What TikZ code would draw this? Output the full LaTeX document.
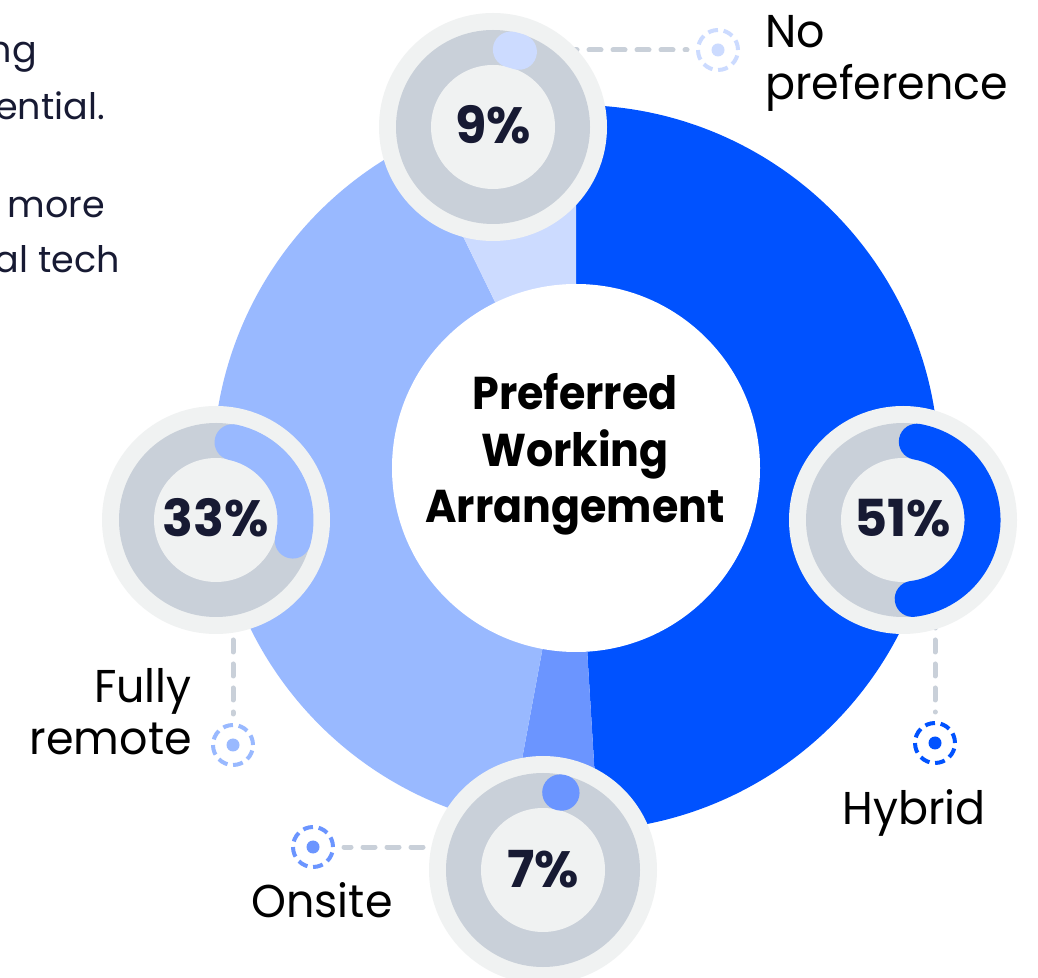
\documentclass[tikz,border=0pt]{standalone}
\usepackage{fontspec}
\setmainfont{Poppins}
\newfontfamily\ttlfont[FakeStretch=0.93]{Poppins}
\newfontfamily\lblfont[FakeStretch=0.965]{Poppins}
\usetikzlibrary{calc}
\definecolor{hyb}{HTML}{0052FF}
\definecolor{rem}{HTML}{99B9FF}
\definecolor{npf}{HTML}{CCDBFF}
\definecolor{ons}{HTML}{6B95FF}
\definecolor{bgl}{HTML}{F0F2F2}
\definecolor{trk}{HTML}{C9D0D9}
\definecolor{navy}{HTML}{171A33}
\newcommand\drawbadge[6]{%
  \node[badge] (#1) at (#2) {};
  \fill[trk] (#1.center) circle (97pt);
  \fill[bgl] (#1.center) circle (62pt);
  \draw[#4, line width=36pt, line cap=round] ($(#1.center)+(#5:79.5pt)$) arc[start angle=#5, end angle=#6, radius=79.5pt];
  \node[pct] (#1t) at ($(#1.center)+(0,-17)$) {#3};
}
\newcommand\drawleg[3]{%
  \node[legring=#3] (#1) at (#2) {};
  \fill[#3] (#1.center) circle (6.5pt);
}
\begin{document}
\begin{tikzpicture}[x=1pt,y=1pt,
  badge/.style={circle, fill=bgl, minimum size=228pt, inner sep=0pt},
  pct/.style={font=\fontsize{51}{60}\selectfont\bfseries, text=navy, anchor=base, inner sep=0pt},
  ttl/.style={font=\ttlfont\fontsize{46}{57}\selectfont\bfseries, text=black, anchor=base, inner sep=0pt},
  lbl/.style={font=\lblfont\fontsize{46}{52}\selectfont, text=black, inner sep=0pt},
  para/.style={font=\fontsize{36.5}{56}\selectfont, text=navy, inner sep=0pt, anchor=base east},
  conn/.style={draw=trk, line width=5pt, dash pattern=on 12pt off 12pt, line cap=round},
  legring/.style={circle, draw=#1, line width=4pt, dash pattern=on 10pt off 5.7pt, minimum size=40pt, inner sep=0pt},
]
\useasboundingbox (0,0) rectangle (1038,977);
\clip (0,0) rectangle (1038,977);
\fill[white] (0,0) rectangle (1038,977);

% donut
\coordinate (C) at (576,509);
\fill[hyb] (C) -- ++(90:363pt) arc[start angle=90, end angle=-86.5, radius=363pt] -- cycle;
\fill[ons] (C) -- ++(-86.5:363pt) arc[start angle=-86.5, end angle=-100.5, radius=363pt] -- cycle;
\fill[rem] (C) -- ++(-100.5:363pt) arc[start angle=-100.5, end angle=-244, radius=363pt] -- cycle;
\fill[npf] (C) -- ++(116:363pt) arc[start angle=116, end angle=90, radius=363pt] -- cycle;
\fill[white] (C) circle (184pt);

\node[ttl] (title1) at (575,567) {Preferred};
\node[ttl] (title2) at (575,510) {Working};
\node[ttl] (title3) at (575,454) {Arrangement};

% legend markers
\drawleg{m9}{718,927}{npf}
\drawleg{m51}{935,234}{hyb}
\drawleg{m33}{233,232}{rem}
\drawleg{m7}{313,130}{ons}

% badge centres
\coordinate (b9c) at (493,850);
\coordinate (b51c) at (903,457);
\coordinate (b33c) at (216,457);
\coordinate (b7c) at (543,107);

% connectors
\draw[conn, shorten >=9pt] (b9c |- m9) -- (m9.west);
\draw[conn, shorten >=9pt] (m51 |- b51c) -- (m51.north);
\draw[conn, shorten >=9pt] (m33 |- b33c) -- (m33.north);
\draw[conn, shorten >=9pt] (b7c |- m7) -- (m7.east);

% badges
\drawbadge{b9}{b9c}{9\%}{npf}{77}{71}
\drawbadge{b51}{b51c}{51\%}{hyb}{80}{-83}
\drawbadge{b33}{b33c}{33\%}{rem}{78}{-15}
\drawbadge{b7}{b7c}{7\%}{ons}{77.5}{76.5}

% labels
\node[lbl, anchor=base west] (lnp1) at (765,929) {No};
\node[lbl, anchor=base west] (lnp2) at (765,877) {preference};
\node[lbl, anchor=base east] (lfr1) at (192,274) {Fully};
\node[lbl, anchor=base east] (lfr2) at (192,222) {remote};
\node[lbl, anchor=base] (lhy) at (914,152) {Hybrid};
\node[lbl, anchor=base] (lon) at (322,60) {Onsite};

% paragraph fragments
\node[para] (p1) at (37,914) {ng};
\node[para] (p2) at (105,857) {ential.};
\node[para] (p3) at (105,759) {more};
\node[para] (p4) at (120,704) {al tech};
\end{tikzpicture}
\end{document}
